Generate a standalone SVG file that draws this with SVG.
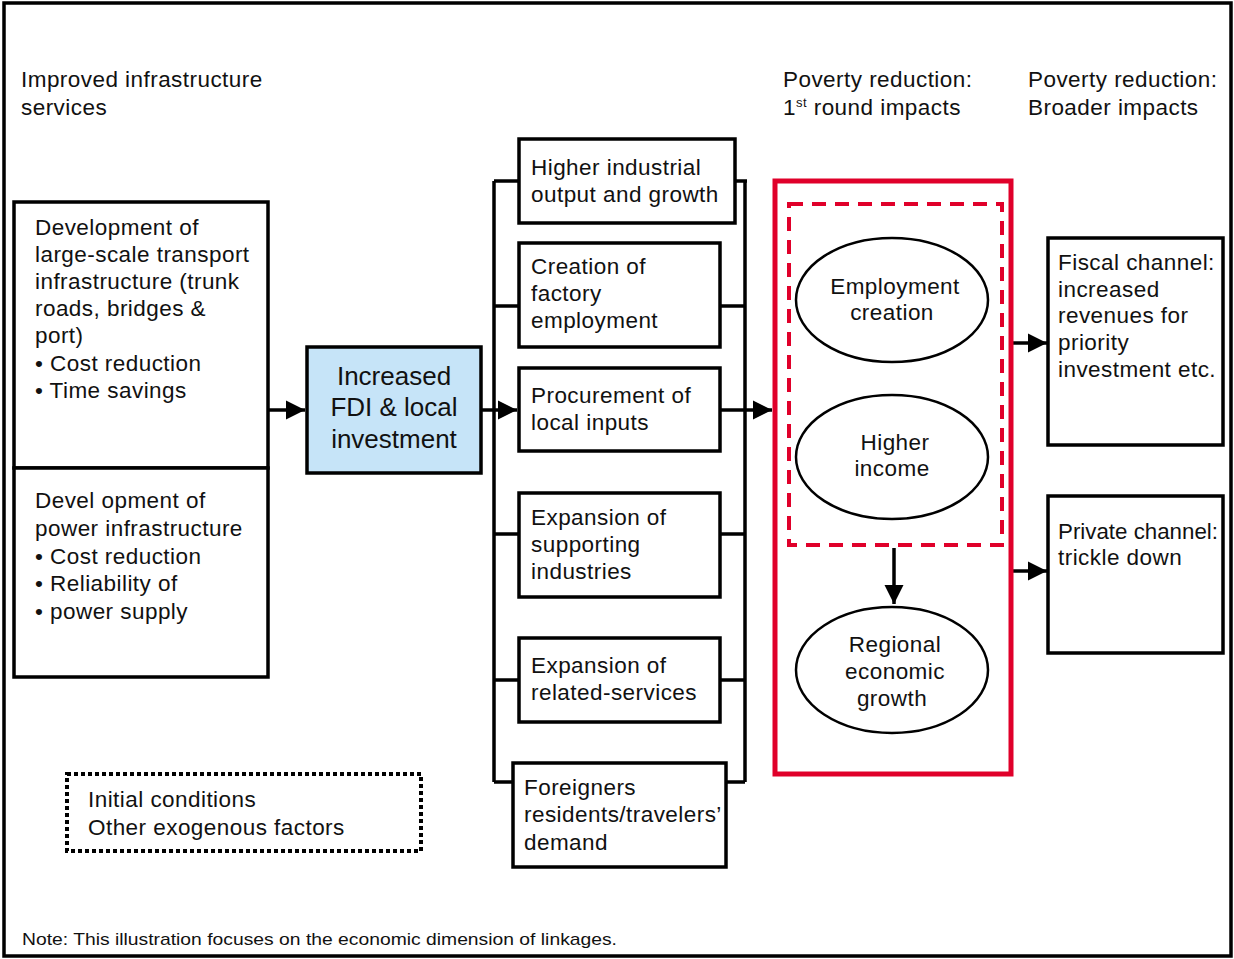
<svg xmlns="http://www.w3.org/2000/svg" width="1234" height="959" viewBox="0 0 1234 959">
<style>
text{font-family:"Liberation Sans",Arial,sans-serif;fill:#111;}
.t{font-size:22.5px;letter-spacing:0.45px;}
.box{fill:#fff;stroke:#000;stroke-width:3.5;}
.line{fill:none;stroke:#000;stroke-width:3.5;}
.ell{fill:#fff;stroke:#000;stroke-width:2.5;}
.c{text-anchor:middle;}
</style>
<defs>
<marker id="ah" viewBox="0 0 10 10" refX="10" refY="5" markerWidth="5.5" markerHeight="5.5" markerUnits="strokeWidth" orient="auto">
<path d="M0,0 L10,5 L0,10 z" fill="#000"/>
</marker>
</defs>
<rect x="0" y="0" width="1234" height="959" fill="#fff"/>
<rect x="4" y="3" width="1227" height="953" fill="none" stroke="#000" stroke-width="3.5"/>

<g id="headers">
<text class="t" x="21" y="87">Improved infrastructure</text>
<text class="t" x="21" y="115">services</text>
<text class="t" x="783" y="87">Poverty reduction:</text>
<text class="t" x="783" y="115">1<tspan font-size="13" dy="-8">st</tspan><tspan dy="8"> round impacts</tspan></text>
<text class="t" x="1028" y="87">Poverty reduction:</text>
<text class="t" x="1028" y="115">Broader impacts</text>
</g>

<g id="connectors">
<path class="line" d="M268,410 H305" marker-end="url(#ah)"/>
<path class="line" d="M481,410 H517" marker-end="url(#ah)"/>
<path class="line" d="M494,181 V782"/>
<path class="line" d="M494,181 H519 M494,306 H519 M494,534 H519 M494,680 H519 M494,782 H513"/>
<path class="line" d="M745,181 V782"/>
<path class="line" d="M735,181 H747 M720,306 H745 M720,534 H745 M720,680 H745 M726,782 H745"/>
<path class="line" d="M720,410 H772" marker-end="url(#ah)"/>
<path class="line" d="M1012,343 H1047" marker-end="url(#ah)"/>
<path class="line" d="M1012,571 H1047" marker-end="url(#ah)"/>
<path class="line" d="M894,548 V604" marker-end="url(#ah)"/>
</g>

<g id="transport">
<rect class="box" x="14" y="202" width="254" height="266"/>
<text class="t" x="35" y="235">Development of</text>
<text class="t" x="35" y="262">large-scale transport</text>
<text class="t" x="35" y="289">infrastructure (trunk</text>
<text class="t" x="35" y="316">roads, bridges &amp;</text>
<text class="t" x="35" y="343">port)</text>
<text class="t" x="35" y="371">• Cost reduction</text>
<text class="t" x="35" y="398">• Time savings</text>
</g>

<g id="power">
<rect class="box" x="14" y="468" width="254" height="209"/>
<text class="t" x="35" y="508">Devel opment of</text>
<text class="t" x="35" y="536">power infrastructure</text>
<text class="t" x="35" y="564">• Cost reduction</text>
<text class="t" x="35" y="591">• Reliability of</text>
<text class="t" x="35" y="619">• power supply</text>
</g>

<g id="fdi">
<rect x="307" y="347" width="174" height="126" fill="#c6e4f8" stroke="#000" stroke-width="3.5"/>
<text class="c" x="394" y="385" font-size="26">Increased</text>
<text class="c" x="394" y="416" font-size="26">FDI &amp; local</text>
<text class="c" x="394" y="448" font-size="26">investment</text>
</g>

<g id="industrial">
<rect class="box" x="519" y="139" width="216" height="84"/>
<text class="t" x="531" y="175">Higher industrial</text>
<text class="t" x="531" y="202">output and growth</text>
</g>
<g id="factory">
<rect class="box" x="519" y="243" width="201" height="104"/>
<text class="t" x="531" y="274">Creation of</text>
<text class="t" x="531" y="301">factory</text>
<text class="t" x="531" y="328">employment</text>
</g>
<g id="procurement">
<rect class="box" x="519" y="368" width="201" height="83"/>
<text class="t" x="531" y="403">Procurement of</text>
<text class="t" x="531" y="430">local inputs</text>
</g>
<g id="supporting">
<rect class="box" x="519" y="493" width="201" height="104"/>
<text class="t" x="531" y="525">Expansion of</text>
<text class="t" x="531" y="552">supporting</text>
<text class="t" x="531" y="579">industries</text>
</g>
<g id="services">
<rect class="box" x="519" y="638" width="201" height="84"/>
<text class="t" x="531" y="673">Expansion of</text>
<text class="t" x="531" y="700">related-services</text>
</g>
<g id="foreigners">
<rect class="box" x="513" y="763" width="213" height="104"/>
<text class="t" x="524" y="795">Foreigners</text>
<text class="t" x="524" y="822">residents/travelers’</text>
<text class="t" x="524" y="850">demand</text>
</g>

<g id="firstround">
<rect x="775" y="181" width="236" height="593" fill="none" stroke="#e0002a" stroke-width="5"/>
<rect x="789" y="204" width="213" height="341" fill="none" stroke="#e0002a" stroke-width="4" stroke-dasharray="14,9"/>
</g>
<g id="employment">
<ellipse class="ell" cx="892" cy="300" rx="96" ry="62"/>
<text class="t c" x="895" y="294">Employment</text>
<text class="t c" x="892" y="320">creation</text>
</g>
<g id="income">
<ellipse class="ell" cx="892" cy="457" rx="96" ry="62"/>
<text class="t c" x="895" y="450">Higher</text>
<text class="t c" x="892" y="476">income</text>
</g>
<g id="regional">
<ellipse class="ell" cx="892" cy="670" rx="96" ry="63"/>
<text class="t c" x="895" y="652">Regional</text>
<text class="t c" x="895" y="679">economic</text>
<text class="t c" x="892" y="706">growth</text>
</g>

<g id="fiscal">
<rect class="box" x="1048" y="238" width="175" height="207"/>
<text class="t" x="1058" y="270">Fiscal channel:</text>
<text class="t" x="1058" y="297">increased</text>
<text class="t" x="1058" y="323">revenues for</text>
<text class="t" x="1058" y="350">priority</text>
<text class="t" x="1058" y="377">investment etc.</text>
</g>
<g id="private">
<rect class="box" x="1048" y="496" width="175" height="157"/>
<text class="t" x="1058" y="539" style="letter-spacing:0" textLength="160" lengthAdjust="spacingAndGlyphs">Private channel:</text>
<text class="t" x="1058" y="565">trickle down</text>
</g>

<g id="exogenous">
<rect x="67" y="774" width="354" height="77" fill="none" stroke="#000" stroke-width="4" stroke-dasharray="4,3"/>
<text class="t" x="88" y="807">Initial conditions</text>
<text class="t" x="88" y="835">Other exogenous factors</text>
</g>

<text x="22" y="945" font-size="17" textLength="595" lengthAdjust="spacingAndGlyphs" fill="#222">Note: This illustration focuses on the economic dimension of linkages.</text>
</svg>
